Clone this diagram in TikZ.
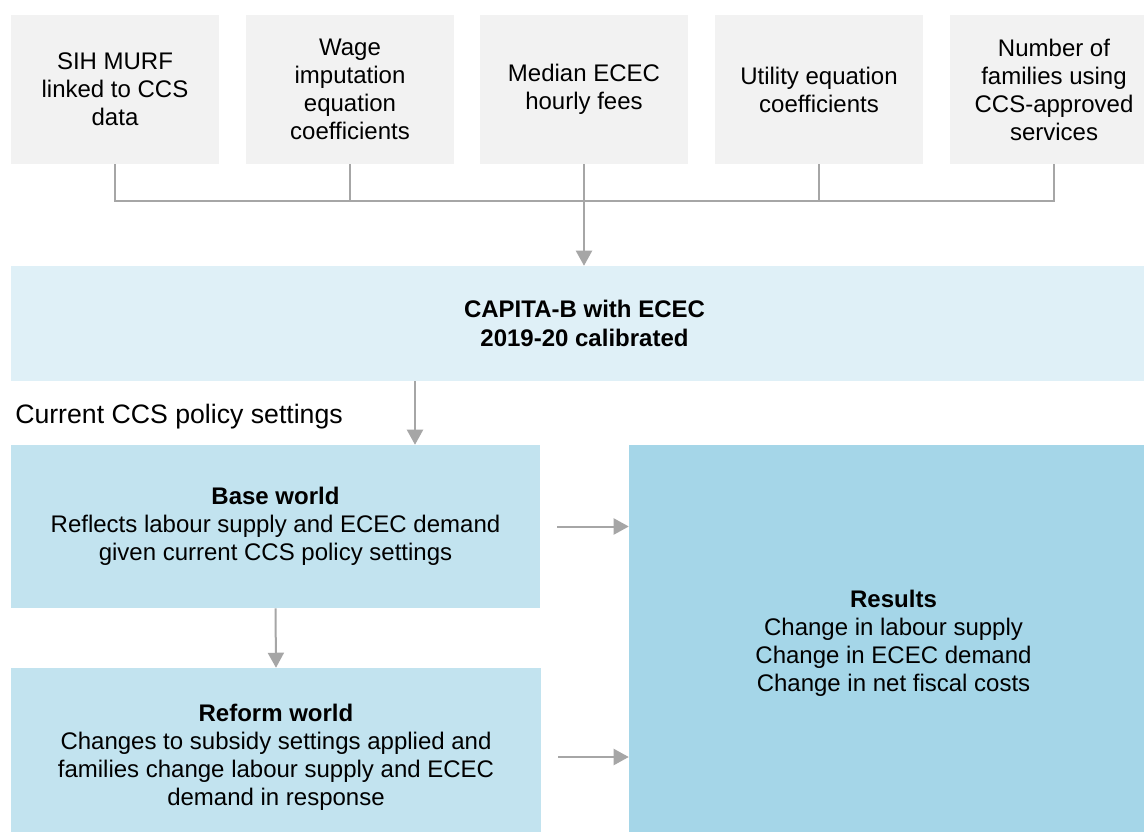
\documentclass[tikz,border=0pt]{standalone}
\usepackage{fontspec}
\setmainfont{Liberation Sans}
\usetikzlibrary{arrows.meta}
\definecolor{grayfill}{HTML}{F2F2F2}
\definecolor{capfill}{HTML}{DFF0F7}
\definecolor{worldfill}{HTML}{C2E3EF}
\definecolor{resfill}{HTML}{A5D6E8}
\definecolor{linegray}{HTML}{A6A6A6}
\begin{document}
\begin{tikzpicture}[x=0.75pt,y=-0.75pt,
  box/.style={rectangle, inner sep=0pt, align=center, font=\fontsize{18}{21}\selectfont},
  inbox/.style={box, fill=grayfill, minimum width=156pt, minimum height=111.75pt},
  worldbox/.style={box, fill=worldfill},
  conn/.style={draw=linegray, line width=1.5pt},
  arr/.style={conn, -{Triangle[length=11.25pt,width=12pt]}}
]
\clip (0,0) rectangle (1144,831);
\fill[white] (0,0) rectangle (1144,831);

% input boxes
\node[inbox] (s1) at (115,89.5) {SIH MURF\\linked to CCS\\data};
\node[inbox] (s2) at (350,89.5) {Wage\\imputation\\equation\\coefficients};
\node[inbox] (s3) at (584,89.5) {Median ECEC\\hourly fees};
\node[inbox] (s4) at (819,89.5) {Utility equation\\coefficients};
\node[inbox] (s5) at (1054,89.5) {Number of\\families using\\CCS-approved\\services};

% model box
\node[box, fill=capfill, minimum width=860.25pt, minimum height=86.25pt,
      font=\fontsize{18}{21.5}\selectfont\bfseries] (cap) at (584.5,323.5)
      {CAPITA-B with ECEC\\2019-20 calibrated};

% label
\node[anchor=base west, inner sep=0pt, font=\fontsize{20}{23}\selectfont] (lbl) at (15,423)
      {Current CCS policy settings};

% worlds
\node[worldbox, minimum width=396.75pt, minimum height=122.25pt] (base) at (275.5,526.5)
      {\textbf{Base world}\\Reflects labour supply and ECEC demand\\given current CCS policy settings};
\node[worldbox, minimum width=397.5pt, minimum height=133.5pt] (reform) at (276,757)
      {\textbf{Reform world}\\Changes to subsidy settings applied and\\families change labour supply and ECEC\\demand in response};

% results
\node[box, fill=resfill, minimum width=396.75pt, minimum height=297.75pt] (res) at (893.5,643.5)
      {\textbf{Results}\\Change in labour supply\\Change in ECEC demand\\Change in net fiscal costs};

% connectors
\coordinate (hl) at (0,201);
\coordinate (cx) at (415,0);
\draw[conn] (s1.south) -- (s1.south |- hl) -- (s5.south |- hl) -- (s5.south);
\draw[conn] (s2.south) -- (s2.south |- hl);
\draw[conn] (s4.south) -- (s4.south |- hl);
\draw[arr] (s3.south) -- (s3.south |- cap.north);
\draw[arr] (cap.south -| cx) -- (base.north -| cx);
\draw[arr] (base.south) -- (reform.north);
\draw[arr, shorten <=12.75pt] (base.east) -- (base.east -| res.west);
\draw[arr, shorten <=12.75pt] (reform.east) -- (reform.east -| res.west);
\end{tikzpicture}
\end{document}
